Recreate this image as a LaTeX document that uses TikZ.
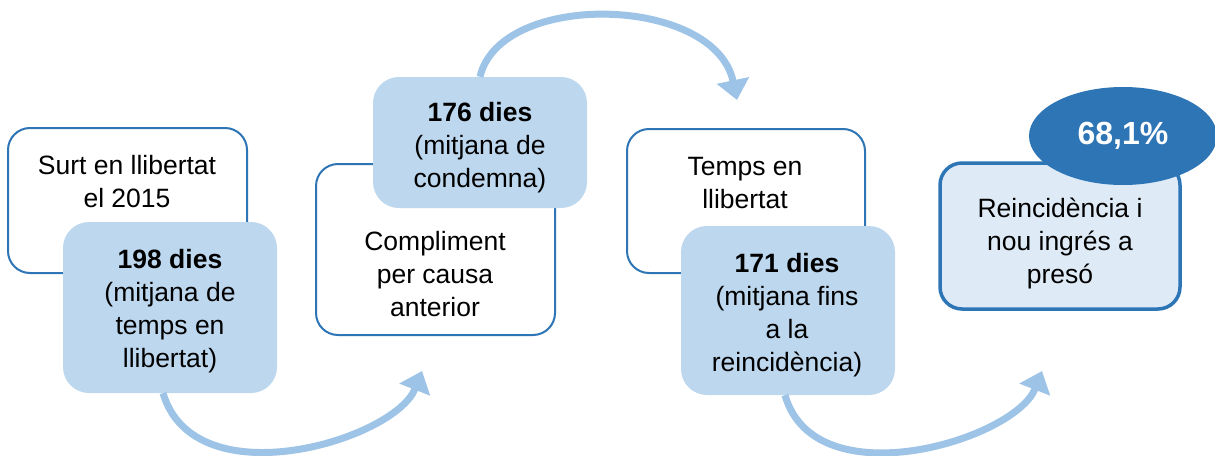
\documentclass[tikz,border=0pt]{standalone}
\usepackage{fontspec}
\setmainfont{Liberation Sans}
\usetikzlibrary{arrows.meta,shapes.geometric,calc}
\definecolor{bord}{HTML}{2E75B6}
\definecolor{lightb}{HTML}{BDD7EE}
\definecolor{paleb}{HTML}{DEEBF7}
\definecolor{arrowc}{HTML}{9DC3E6}
\tikzset{
  whitebox/.style={draw=bord, line width=2pt, fill=white, rounded corners=22pt, inner sep=0pt},
  bluebox/.style={fill=lightb, rounded corners=26pt, inner sep=0pt},
  finalbox/.style={draw=bord, line width=3.5pt, fill=paleb, rounded corners=22pt, inner sep=0pt},
  badge/.style={ellipse, fill=bord, inner sep=0pt, text=white, font=\bfseries\fontsize{32}{38}\selectfont},
  txt/.style={align=center, inner sep=0pt, font=\fontsize{26.5}{33}\selectfont},
  arc/.style={draw=arrowc, line width=7pt, -{Triangle[length=20pt,width=32pt]}}
}
\begin{document}
\begin{tikzpicture}[x=1pt,y=-1pt]
\useasboundingbox (0,0) rectangle (1215,455);
% step 1
\node[whitebox, minimum width=239pt, minimum height=145pt] (b1) at (127.5,200.5) {};
\node[bluebox, minimum width=214pt, minimum height=171pt] (b1b) at (170,307.5) {};
\node[txt] (t1) at (127,182) {Surt en llibertat\\el 2015};
\node[txt] (t1b) at (170,311) {\textbf{198 dies}\\(mitjana de\\temps en\\llibertat)};
% step 2
\node[whitebox, minimum width=239pt, minimum height=171pt] (b2) at (435.5,249.5) {};
\node[bluebox, minimum width=214pt, minimum height=131pt] (b2b) at (480,142.5) {};
\node[txt] (t2b) at (480,148) {\textbf{176 dies}\\(mitjana de\\condemna)};
\node[txt] (t2) at (435,274) {Compliment\\per causa\\anterior};
% step 3
\node[whitebox, minimum width=238pt, minimum height=144pt] (b3) at (746,201) {};
\node[bluebox, minimum width=214pt, minimum height=169pt] (b3b) at (788,310.5) {};
\node[txt] (t3) at (745,183) {Temps en\\llibertat};
\node[txt] (t3b) at (787,315) {\textbf{171 dies}\\(mitjana fins\\a la\\reincidència)};
% step 4
\node[finalbox, minimum width=240pt, minimum height=146pt] (b4) at (1060,236) {};
\node[txt] (t4) at (1060,243) {Reincidència i\\nou ingrés a\\presó};
\node[badge, minimum width=188pt, minimum height=98pt] (pct) at (1123,136) {68,1\%};
% arrows
\coordinate (e1) at (422,371);
\coordinate (e2) at (737,100);
\coordinate (e3) at (1042,371);
\draw[arc] ($(b1b.south)+(-7,0)$) .. controls (195,500) and (395,440) .. (e1);
\draw[arc] (b2b.north) .. controls (500,-10) and (715,-5) .. (e2);
\draw[arc] ($(b3b.south)+(-3,0)$) .. controls (815,500) and (1015,440) .. (e3);
\end{tikzpicture}
\end{document}
